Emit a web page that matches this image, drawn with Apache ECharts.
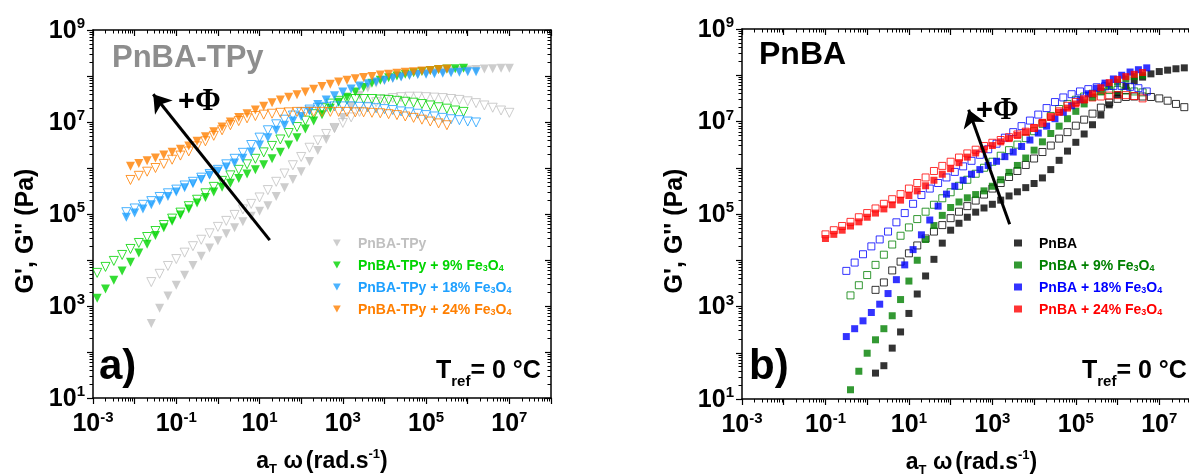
<!DOCTYPE html>
<html>
<head>
<meta charset="utf-8">
<title>G', G'' master curves</title>
<script src="https://cdn.jsdelivr.net/npm/echarts@6/dist/echarts.min.js"></script>
<style>
html, body { margin: 0; padding: 0; background: #fff; }
#chart { width: 1189px; height: 476px; }
</style>
</head>
<body>
<div id="chart"></div>
<script>
// values in decades: log10(aT*w), log10(G'), log10(G'')
var tpyNames = ['PnBA-TPy', 'PnBA-TPy + 9% Fe3O4', 'PnBA-TPy + 18% Fe3O4', 'PnBA-TPy + 24% Fe3O4'];
var pnbaNames = ['PnBA', 'PnBA + 9% Fe3O4', 'PnBA + 18% Fe3O4', 'PnBA + 24% Fe3O4'];

// panel a) PnBA-TPy
var tpy0W = [-1.6,-1.4,-1.2,-1.0,-0.8,-0.6,-0.4,-0.2,0.0,0.2,0.4,0.6,0.8,1.0,1.2,1.4,1.6,1.8,2.0,2.2,2.4,2.6,2.8,3.0,3.2,3.4,3.6,3.8,4.0,4.2,4.4,4.6,4.8,5.0,5.2,5.4,5.6,5.8,6.0,6.2,6.4,6.6,6.8,7.0];
var tpy0G1 = [2.62,2.95,3.22,3.45,3.67,3.88,4.08,4.26,4.42,4.57,4.70,4.83,4.95,5.06,5.18,5.38,5.57,5.75,5.92,6.14,6.38,6.62,6.86,7.10,7.35,7.58,7.74,7.84,7.90,7.95,7.99,8.02,8.04,8.06,8.08,8.09,8.11,8.12,8.13,8.14,8.15,8.16,8.17,8.17];
var tpy0G2 = [3.52,3.70,3.87,4.02,4.16,4.30,4.44,4.58,4.72,4.85,4.98,5.10,5.22,5.36,5.52,5.70,5.88,6.06,6.24,6.44,6.60,6.74,6.87,6.98,7.10,7.22,7.33,7.43,7.49,7.52,7.54,7.55,7.55,7.54,7.53,7.52,7.50,7.48,7.45,7.41,7.36,7.31,7.25,7.20];

var tpy9W = [-2.9,-2.7,-2.5,-2.3,-2.1,-1.9,-1.7,-1.5,-1.3,-1.1,-0.9,-0.7,-0.5,-0.3,-0.1,0.1,0.3,0.5,0.7,0.9,1.1,1.3,1.5,1.7,1.9,2.1,2.3,2.5,2.7,2.9,3.1,3.3,3.5,3.7,3.9,4.1,4.3,4.5,4.7,4.9,5.1,5.3,5.5,5.7,5.9];
var tpy9G1 = [3.17,3.37,3.56,3.76,3.95,4.15,4.34,4.53,4.70,4.84,4.98,5.11,5.24,5.36,5.48,5.58,5.67,5.77,5.87,5.96,6.07,6.20,6.34,6.50,6.66,6.85,7.02,7.16,7.30,7.43,7.54,7.65,7.75,7.84,7.91,7.96,8.00,8.04,8.07,8.10,8.12,8.14,8.15,8.16,8.17];
var tpy9G2 = [3.72,3.85,3.98,4.11,4.24,4.37,4.50,4.63,4.76,4.90,5.03,5.17,5.31,5.45,5.59,5.72,5.84,5.96,6.08,6.20,6.34,6.48,6.62,6.76,6.89,7.03,7.17,7.30,7.40,7.46,7.49,7.50,7.50,7.50,7.49,7.48,7.46,7.44,7.42,7.39,7.36,7.32,7.29,7.25,7.22];

var tpy18W = [-2.2,-2.0,-1.8,-1.6,-1.4,-1.2,-1.0,-0.8,-0.6,-0.4,-0.2,0.0,0.2,0.4,0.6,0.8,1.0,1.2,1.4,1.6,1.8,2.0,2.2,2.4,2.6,2.8,3.0,3.2,3.4,3.6,3.8,4.0,4.2,4.4,4.6,4.8,5.0,5.2,5.4,5.6,5.8,6.0,6.2];
var tpy18G1 = [4.93,5.02,5.11,5.20,5.29,5.38,5.48,5.57,5.66,5.75,5.84,5.93,6.02,6.11,6.21,6.35,6.50,6.66,6.82,6.93,7.02,7.12,7.24,7.38,7.48,7.57,7.65,7.72,7.78,7.83,7.87,7.91,7.95,7.98,8.01,8.03,8.04,8.05,8.06,8.07,8.08,8.09,8.09];
var tpy18G2 = [5.04,5.12,5.20,5.28,5.37,5.45,5.53,5.62,5.70,5.79,5.87,5.96,6.08,6.20,6.33,6.50,6.66,6.82,6.95,7.05,7.14,7.21,7.27,7.31,7.33,7.34,7.34,7.34,7.33,7.32,7.30,7.28,7.26,7.23,7.21,7.18,7.15,7.12,7.09,7.06,7.04,7.01,6.99];

var tpy24W = [-2.1,-1.9,-1.7,-1.5,-1.3,-1.1,-0.9,-0.7,-0.5,-0.3,-0.1,0.1,0.3,0.5,0.7,0.9,1.1,1.3,1.5,1.7,1.9,2.1,2.3,2.5,2.7,2.9,3.1,3.3,3.5,3.7,3.9,4.1,4.3,4.5,4.7,4.9,5.1,5.3,5.5];
var tpy24G1 = [6.04,6.10,6.16,6.22,6.28,6.34,6.41,6.48,6.58,6.68,6.79,6.89,7.00,7.10,7.18,7.26,7.34,7.42,7.48,7.54,7.59,7.65,7.71,7.77,7.82,7.87,7.91,7.94,7.97,7.99,8.02,8.04,8.06,8.08,8.09,8.11,8.12,8.14,8.15];
var tpy24G2 = [5.74,5.83,5.92,6.00,6.09,6.18,6.27,6.36,6.47,6.58,6.70,6.82,6.93,7.02,7.08,7.13,7.16,7.18,7.20,7.21,7.22,7.22,7.22,7.22,7.22,7.22,7.22,7.21,7.21,7.20,7.19,7.17,7.15,7.12,7.09,7.05,7.01,6.97,6.93];

// panel b) PnBA
var pnba0W = [0.2,0.4,0.6,0.8,1.0,1.2,1.4,1.6,1.8,2.0,2.2,2.4,2.6,2.8,3.0,3.2,3.4,3.6,3.8,4.0,4.2,4.4,4.6,4.8,5.0,5.2,5.4,5.6,5.8,6.0,6.2,6.4,6.6,6.8,7.0,7.2,7.4,7.6];
var pnba0G1 = [1.56,1.72,2.10,2.45,2.85,3.27,3.66,4.02,4.37,4.65,4.80,4.93,5.04,5.13,5.21,5.30,5.39,5.48,5.57,5.66,5.78,5.96,6.16,6.36,6.55,6.73,6.93,7.14,7.36,7.58,7.76,7.88,7.96,8.03,8.08,8.11,8.14,8.16];
var pnba0G2 = [3.36,3.52,3.78,3.97,4.15,4.32,4.47,4.62,4.76,4.91,5.05,5.17,5.29,5.42,5.55,5.67,5.80,5.93,6.06,6.20,6.34,6.48,6.63,6.77,6.91,7.04,7.17,7.30,7.41,7.49,7.53,7.54,7.54,7.53,7.50,7.45,7.38,7.31];

var pnba9W = [-0.4,-0.2,0.0,0.2,0.4,0.6,0.8,1.0,1.2,1.4,1.6,1.8,2.0,2.2,2.4,2.6,2.8,3.0,3.2,3.4,3.6,3.8,4.0,4.2,4.4,4.6,4.8,5.0,5.2,5.4,5.6,5.8,6.0,6.2,6.4,6.6];
var pnba9G1 = [1.20,1.60,1.99,2.28,2.52,2.80,3.15,3.55,4.00,4.45,4.75,4.97,5.14,5.26,5.35,5.42,5.50,5.60,5.74,5.90,6.05,6.21,6.38,6.56,6.74,6.90,7.06,7.22,7.38,7.52,7.65,7.76,7.85,7.92,7.97,8.00];
var pnba9G2 = [3.24,3.46,3.68,3.90,4.12,4.34,4.53,4.71,4.89,5.05,5.20,5.34,5.47,5.61,5.74,5.87,6.00,6.13,6.26,6.38,6.50,6.64,6.79,6.95,7.12,7.27,7.38,7.47,7.54,7.60,7.65,7.68,7.68,7.67,7.65,7.63];

var pnba18W = [-0.5,-0.3,-0.1,0.1,0.3,0.5,0.7,0.9,1.1,1.3,1.5,1.7,1.9,2.1,2.3,2.5,2.7,2.9,3.1,3.3,3.5,3.7,3.9,4.1,4.3,4.5,4.7,4.9,5.1,5.3,5.5,5.7,5.9,6.1,6.3,6.5,6.7];
var pnba18G1 = [2.35,2.52,2.69,2.87,3.05,3.28,3.58,3.90,4.23,4.55,4.87,5.17,5.43,5.60,5.73,5.86,5.96,6.05,6.14,6.24,6.34,6.46,6.60,6.75,6.90,7.06,7.20,7.34,7.47,7.60,7.72,7.83,7.92,8.00,8.07,8.12,8.16];
var pnba18G2 = [3.77,3.95,4.13,4.30,4.45,4.62,4.82,5.02,5.22,5.41,5.55,5.67,5.79,5.91,6.03,6.15,6.28,6.40,6.52,6.65,6.77,6.90,7.02,7.15,7.29,7.42,7.52,7.59,7.65,7.70,7.74,7.76,7.77,7.77,7.75,7.72,7.65];

var pnba24W = [-1.0,-0.8,-0.6,-0.4,-0.2,0.0,0.2,0.4,0.6,0.8,1.0,1.2,1.4,1.6,1.8,2.0,2.2,2.4,2.6,2.8,3.0,3.2,3.4,3.6,3.8,4.0,4.2,4.4,4.6,4.8,5.0,5.2,5.4,5.6,5.8,6.0,6.2,6.4,6.6];
var pnba24G1 = [4.47,4.56,4.65,4.74,4.83,4.93,5.02,5.11,5.20,5.30,5.40,5.50,5.61,5.73,5.86,5.98,6.11,6.23,6.32,6.40,6.48,6.56,6.63,6.70,6.77,6.86,6.98,7.09,7.20,7.29,7.38,7.47,7.60,7.73,7.84,7.91,7.97,8.02,8.06];
var pnba24G2 = [4.56,4.65,4.74,4.83,4.93,5.02,5.12,5.22,5.32,5.43,5.55,5.67,5.79,5.93,6.04,6.13,6.22,6.31,6.39,6.47,6.54,6.60,6.66,6.72,6.78,6.86,6.97,7.10,7.22,7.34,7.42,7.48,7.52,7.54,7.56,7.57,7.57,7.55,7.50];

var tpyColors = ['#c0c0c0', '#00d400', '#1ea0ff', '#ff7f00'];
var pnbaColors = ['#000000', '#008000', '#0000ff', '#ff0000'];

var font = 'Liberation Sans, Arial, Helvetica, sans-serif';

function toPts(w, g) {
    return w.map(function (u, i) { return [Math.pow(10, u), Math.pow(10, g[i])]; });
}

function decadeLabel(v) {
    var e = Math.round(Math.log(v) / Math.LN10);
    return e % 2 === 0 ? '' : '{b|10}{s|' + e + '}';
}

var tickRich = {
    b: { fontFamily: font, fontWeight: 'bold', fontSize: 25, lineHeight: 27, verticalAlign: 'bottom', color: '#000' },
    s: { fontFamily: font, fontWeight: 'bold', fontSize: 15, lineHeight: 15, verticalAlign: 'top', color: '#000' }
};

function logAxis(pos, grid, min, max, main) {
    var ax = {
        type: 'log', logBase: 10, gridIndex: grid, position: pos,
        min: min, max: max, interval: 1, splitNumber: 11,
        axisLine: { show: true, onZero: false, lineStyle: { color: '#000', width: 1.5 } },
        axisTick: { show: true, inside: !main, length: 6, lineStyle: { color: '#000', width: 1.2 } },
        minorTick: { show: true, splitNumber: 9, length: 3.5, lineStyle: { color: '#000', width: 1 } },
        splitLine: { show: false },
        minorSplitLine: { show: false },
        axisLabel: { show: false }
    };
    if (main) {
        ax.axisLabel = { show: true, formatter: decadeLabel, rich: tickRich, margin: (pos === 'bottom') ? 12 : 8 };
    }
    return ax;
}

function xName() {
    return {
        name: '{a|a}{t|T}{w| ω}{a|(rad.s}{p|-1}{a|)}',
        nameLocation: 'middle', nameGap: 50,
        nameTextStyle: {
            rich: {
                a: { fontFamily: font, fontWeight: 'bold', fontSize: 23, lineHeight: 28, color: '#000' },
                w: { fontFamily: font, fontWeight: 'bold', fontSize: 23, lineHeight: 28, color: '#000', padding: [0, 3, 0, 0] },
                t: { fontFamily: font, fontWeight: 'bold', fontSize: 13, lineHeight: 14, verticalAlign: 'bottom', color: '#000' },
                p: { fontFamily: font, fontWeight: 'bold', fontSize: 13, lineHeight: 14, verticalAlign: 'top', color: '#000' }
            }
        }
    };
}

function yName() {
    return {
        name: "G', G'' (Pa)",
        nameLocation: 'middle', nameGap: 54,
        nameTextStyle: { fontFamily: font, fontWeight: 'bold', fontSize: 25, color: '#000', padding: [0, 34, 0, 0] }
    };
}

var xa = logAxis('bottom', 0, 1e-3, 1e8, true);
Object.assign(xa, xName());
var ya = logAxis('left', 0, 1e1, 1e9, true);
Object.assign(ya, yName());
var xb = logAxis('bottom', 1, 1e-3, 1e8, true);
Object.assign(xb, xName());
var yb = logAxis('left', 1, 1e1, 1e9, true);
Object.assign(yb, yName());

function mk(name, w, g, color, shape, size, hollow, panel) {
    return {
        type: 'scatter', name: name,
        xAxisIndex: panel * 2, yAxisIndex: panel * 2,
        data: toPts(w, g),
        symbol: shape, symbolSize: size, symbolRotate: shape === 'triangle' ? 180 : 0,
        itemStyle: hollow
            ? { color: 'rgba(255,255,255,0)', borderColor: color, borderWidth: 1 }
            : { color: color },
        emphasis: { disabled: true },
        silent: true
    };
}

var tpySets = [[tpy0W, tpy0G1, tpy0G2], [tpy9W, tpy9G1, tpy9G2], [tpy18W, tpy18G1, tpy18G2], [tpy24W, tpy24G1, tpy24G2]];
var pnbaSets = [[pnba0W, pnba0G1, pnba0G2], [pnba9W, pnba9G1, pnba9G2], [pnba18W, pnba18G1, pnba18G2], [pnba24W, pnba24G1, pnba24G2]];

var series = [];
tpySets.forEach(function (s, i) {
    series.push(mk(tpyNames[i] + " G''", s[0], s[2], tpyColors[i], 'triangle', 9, true, 0));
    series.push(mk(tpyNames[i], s[0], s[1], tpyColors[i], 'triangle', 9, false, 0));
});
pnbaSets.forEach(function (s, i) {
    series.push(mk(pnbaNames[i] + " G''", s[0], s[2], pnbaColors[i], 'rect', 7, true, 1));
    series.push(mk(pnbaNames[i], s[0], s[1], pnbaColors[i], 'rect', 7, false, 1));
});

// the +Phi arrows, in data coordinates
function arrow(from, to) {
    return {
        silent: true, animation: false,
        symbol: ['none', 'arrow'], symbolSize: 17,
        label: { show: false },
        lineStyle: { color: '#000', width: 3, type: 'solid' },
        emphasis: { disabled: true },
        data: [[{ coord: from }, { coord: to }]]
    };
}
series[0].markLine = arrow([17.6, 2.7e4], [0.028, 4.0e7]);
series[8].markLine = arrow([2600, 6.0e4], [270, 1.8e7]);

function legendFmt(name) {
    var i = name.indexOf('Fe3O4');
    if (i < 0) return '{g| }{n|' + name + '}';
    return '{g| }{n|' + name.slice(0, i) + 'Fe}{s|3}{n|O}{s|4}';
}
var legendRich = {
    g: { width: 12 },
    n: { fontFamily: font, fontWeight: 'bold', fontSize: 14, lineHeight: 16, verticalAlign: 'bottom' },
    s: { fontFamily: font, fontWeight: 'bold', fontSize: 9, lineHeight: 8, verticalAlign: 'bottom' }
};
function legend(names, colors, left, icon) {
    return {
        orient: 'vertical', left: left, top: 232,
        itemWidth: 8, itemHeight: 7, itemGap: 8,
        selectedMode: false,
        formatter: legendFmt,
        textStyle: { rich: legendRich },
        data: names.map(function (n, i) {
            return { name: n, icon: icon, textStyle: { color: colors[i] } };
        })
    };
}

var tRich = {
    a: { fontFamily: font, fontWeight: 'bold', fontSize: 25, lineHeight: 30, verticalAlign: 'top', fill: '#000' },
    b: { fontFamily: font, fontWeight: 'bold', fontSize: 15, lineHeight: 10, verticalAlign: 'bottom', fill: '#000' }
};
var phiRich = {
    p: { fontFamily: font, fontWeight: 'bold', fontSize: 29, fill: '#000' },
    f: { fontFamily: 'Liberation Serif, DejaVu Serif, serif', fontWeight: 'bold', fontSize: 31, fill: '#000' }
};

var chart = echarts.init(document.getElementById('chart'));
chart.setOption({
    animation: false,
    backgroundColor: '#fff',
    grid: [
        { left: 93, top: 30, width: 458, height: 368, outerBoundsMode: 'none', containLabel: false },
        { left: 742, top: 29, width: 459, height: 370, outerBoundsMode: 'none', containLabel: false }
    ],
    xAxis: [xa, logAxis('top', 0, 1e-3, 1e8, false), xb, logAxis('top', 1, 1e-3, 1e8, false)],
    yAxis: [ya, logAxis('right', 0, 1e1, 1e9, false), yb, logAxis('right', 1, 1e1, 1e9, false)],
    legend: [legend(tpyNames, tpyColors, 328, 'path://M0,0L10,0L5,9Z'), legend(pnbaNames, pnbaColors, 1009, 'rect')],
    series: series,
    graphic: [
        { type: 'text', left: 112, top: 43, silent: true,
          style: { text: 'PnBA-TPy', fontFamily: font, fontWeight: 'bold', fontSize: 31, fill: '#8e8e8e' } },
        { type: 'text', left: 759, top: 39, silent: true,
          style: { text: 'PnBA', fontFamily: font, fontWeight: 'bold', fontSize: 32, fill: '#000' } },
        { type: 'text', left: 178, top: 86, silent: true, style: { text: '{p|+}{f|Φ}', rich: phiRich } },
        { type: 'text', left: 976, top: 95, silent: true, style: { text: '{p|+}{f|Φ}', rich: phiRich } },
        { type: 'text', left: 99, top: 346, silent: true,
          style: { text: 'a)', fontFamily: font, fontWeight: 'bold', fontSize: 42, fill: '#000' } },
        { type: 'text', left: 749, top: 346, silent: true,
          style: { text: 'b)', fontFamily: font, fontWeight: 'bold', fontSize: 42, fill: '#000' } },
        { type: 'text', left: 436, top: 359, silent: true, style: { text: '{a|T}{b|ref}{a|= 0 °C}', rich: tRich } },
        { type: 'text', left: 1082, top: 359, silent: true, style: { text: '{a|T}{b|ref}{a|= 0 °C}', rich: tRich } }
    ]
});
</script>
</body>
</html>
